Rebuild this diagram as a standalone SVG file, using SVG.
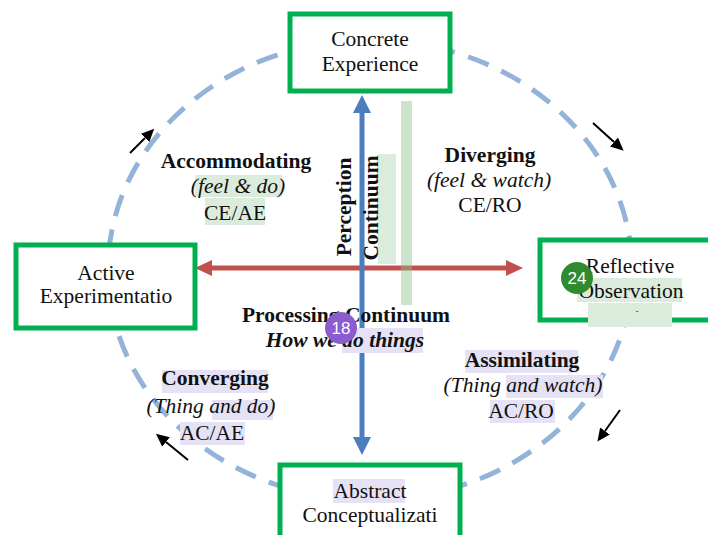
<svg xmlns="http://www.w3.org/2000/svg" width="708" height="535" viewBox="0 0 708 535">
<style>
.t{font-family:"Liberation Serif",Tinos,"Noto Serif","DejaVu Serif","Times New Roman",serif;font-size:21.5px;fill:#111;text-anchor:middle}
.b{font-weight:bold}
.i{font-style:italic}
.box{fill:#fff;stroke:#00b050;stroke-width:5}
.hg{fill:#dcecdc}
.hp{fill:#e6e2f6}
.blk{stroke:#000;stroke-width:2;fill:none}
.badge{font-family:"Liberation Sans",Arial,sans-serif;font-size:17px;fill:#fff;text-anchor:middle}
</style>
<defs>
<marker id="hb" markerUnits="userSpaceOnUse" markerWidth="18" markerHeight="18" refX="0" refY="9" orient="auto-start-reverse"><path d="M0,0 L18,9 L0,18 z" fill="#4a7ebf"/></marker>
<marker id="hr" markerUnits="userSpaceOnUse" markerWidth="17" markerHeight="16" refX="0" refY="8" orient="auto-start-reverse"><path d="M0,0 L17,8 L0,16 z" fill="#c0504d"/></marker>
<marker id="hk" markerUnits="userSpaceOnUse" markerWidth="13" markerHeight="12" refX="0" refY="6" orient="auto"><path d="M0,0 L13,6 L0,12 z" fill="#000"/></marker>
</defs>
<rect width="708" height="535" fill="#fff"/>
<g id="connectors">
<ellipse cx="370" cy="270" rx="262" ry="230" fill="none" stroke="#93b3d9" stroke-width="5" stroke-dasharray="22 14"/>
<line x1="212" y1="268" x2="506" y2="268" stroke="#c0504d" stroke-width="5" marker-start="url(#hr)" marker-end="url(#hr)"/>
<line x1="362" y1="113" x2="362" y2="437" stroke="#4a7ebf" stroke-width="5" marker-start="url(#hb)" marker-end="url(#hb)"/>
<rect x="401" y="101" width="11" height="204" fill="#8fc48f" opacity="0.45"/>
<line class="blk" x1="130" y1="153" x2="145" y2="138" marker-end="url(#hk)"/>
<line class="blk" x1="593" y1="123" x2="614" y2="142" marker-end="url(#hk)"/>
<line class="blk" x1="620" y1="410" x2="605" y2="431" marker-end="url(#hk)"/>
<line class="blk" x1="188" y1="460" x2="166" y2="442" marker-end="url(#hk)"/>
</g>
<g id="node-concrete">
<rect class="box" x="290" y="14" width="160" height="77"/>
<text class="t" x="370" y="46">Concrete</text>
<text class="t" x="370" y="71">Experience</text>
</g>
<g id="node-active">
<rect class="box" x="16" y="245" width="179" height="83"/>
<text class="t" x="106" y="280">Active</text>
<text class="t" x="106" y="303">Experimentatio</text>
</g>
<g id="node-reflective">
<rect class="box" x="540" y="240" width="180" height="80"/>
<rect class="hg" x="577" y="278" width="105" height="24"/>
<rect class="hg" x="588" y="303" width="84" height="24"/>
<text class="t" x="630" y="273">Reflective</text>
<text class="t" x="631" y="298">Observation</text>
<text class="t" x="637" y="314" style="font-size:8px">-</text>
<circle cx="577" cy="278" r="16" fill="#2e8b2e"/>
<text class="badge" x="577" y="284">24</text>
</g>
<g id="node-abstract">
<rect class="box" x="280" y="465" width="180" height="80"/>
<rect class="hp" x="333" y="479" width="72" height="24"/>
<text class="t" x="370" y="498">Abstract</text>
<text class="t" x="370" y="522">Conceptualizati</text>
</g>
<g id="perception">
<rect class="hg" x="378" y="154" width="18" height="110"/>
<text class="t b" transform="translate(351,207) rotate(-90)">Perception</text>
<text class="t b" transform="translate(378,208) rotate(-90)">Continuum</text>
</g>
<g id="accommodating">
<rect class="hg" x="195" y="175" width="87" height="22"/>
<rect class="hg" x="205" y="198" width="60" height="27"/>
<text class="t b" x="236" y="168">Accommodating</text>
<text class="t i" x="238" y="193">(feel &amp; do)</text>
<text class="t" x="235" y="220">CE/AE</text>
</g>
<g id="diverging">
<text class="t b" x="490" y="162">Diverging</text>
<text class="t i" x="489" y="187">(feel &amp; watch)</text>
<text class="t" x="490" y="212">CE/RO</text>
</g>
<g id="converging">
<rect class="hp" x="162" y="370" width="106" height="23"/>
<rect class="hp" x="212" y="400" width="61" height="20"/>
<rect class="hp" x="180" y="422" width="65" height="23"/>
<text class="t b" x="215" y="385">Converging</text>
<text class="t i" x="211" y="413">(Thing and do)</text>
<text class="t" x="212" y="440">AC/AE</text>
</g>
<g id="assimilating">
<rect class="hp" x="465" y="350" width="113" height="23"/>
<rect class="hp" x="506" y="375" width="97" height="23"/>
<rect class="hp" x="490" y="400" width="65" height="23"/>
<text class="t b" x="522" y="367">Assimilating</text>
<text class="t i" x="523" y="392">(Thing and watch)</text>
<text class="t" x="521" y="418">AC/RO</text>
</g>
<g id="processing">
<rect class="hp" x="342" y="328" width="81" height="25"/>
<text class="t b" x="346" y="322">Processing Continuum</text>
<text class="t b i" x="345" y="347">How we do things</text>
<circle cx="341" cy="328" r="16" fill="#8a5cd0"/>
<text class="badge" x="341" y="334">18</text>
</g>
</svg>
